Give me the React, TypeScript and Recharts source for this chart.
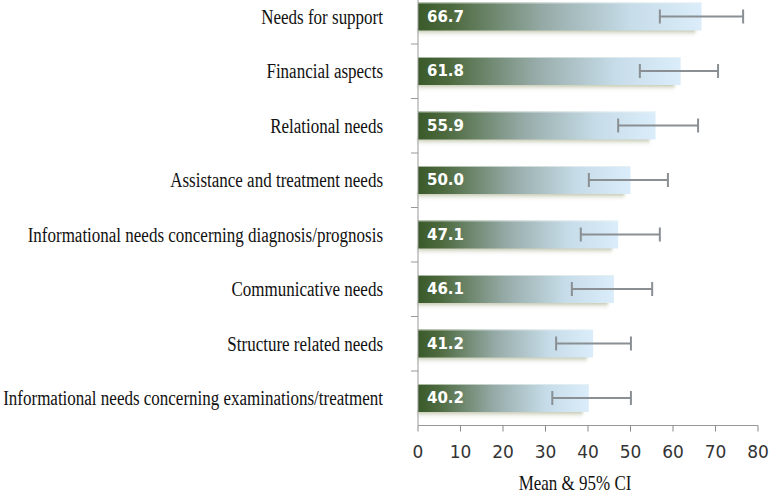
import React from "react";
import { BarChart, Bar, XAxis, YAxis, ErrorBar, LabelList } from "recharts";

const categories = [
  "Needs for support",
  "Financial aspects",
  "Relational needs",
  "Assistance and treatment needs",
  "Informational needs concerning diagnosis/prognosis",
  "Communicative needs",
  "Structure related needs",
  "Informational needs concerning examinations/treatment",
];
const means = [66.7, 61.8, 55.9, 50.0, 47.1, 46.1, 41.2, 40.2];
const ciLow = [56.9, 52.2, 47.1, 40.2, 38.3, 36.2, 32.5, 31.6];
const ciHigh = [76.5, 70.6, 65.9, 58.8, 56.9, 55.1, 50.1, 50.1];
const xTicks = [0, 10, 20, 30, 40, 50, 60, 70, 80];
const xTitle = "Mean & 95% CI";

const CHART_W = 770;
const CHART_H = 514;
const MARGIN = { top: 9.5, right: 12, left: 0, bottom: 8.5 };
const X_AXIS_H = 60;
const Y_AXIS_W = 418;
const PLOT_H = CHART_H - MARGIN.top - MARGIN.bottom - X_AXIS_H;
const HALF_BAND = PLOT_H / categories.length / 2;

const serif = "'Liberation Serif', 'Times New Roman', serif";
const sans = "'DejaVu Sans', Verdana, sans-serif";

const data = categories.map((name, i) => ({
  name,
  mean: means[i],
  err: [means[i] - ciLow[i], ciHigh[i] - means[i]],
}));

const CategoryTick = (props: any) => {
  const { x, y, payload, index } = props;
  return (
    <g>
      <text
        transform={`translate(${x},${y}) scale(1,1.22)`}
        textAnchor="end"
        dy="0.33em"
        fontFamily={serif}
        fontSize={17}
        fill="#111"
      >
        {payload.value}
      </text>
      {index < categories.length - 1 && (
        <line
          x1={Y_AXIS_W - 7}
          x2={Y_AXIS_W}
          y1={y + HALF_BAND}
          y2={y + HALF_BAND}
          stroke="#999"
        />
      )}
    </g>
  );
};

const AxisTitle = (props: any) => {
  const { viewBox } = props;
  const cx = viewBox.x + viewBox.width / 2 - 13;
  const by = viewBox.y + viewBox.height + 4;
  return (
    <text
      transform={`translate(${cx},${by}) scale(1,1.18)`}
      textAnchor="middle"
      fontFamily={serif}
      fontSize={17}
      fill="#111"
    >
      {xTitle}
    </text>
  );
};

const GradientBar = (props: any) => {
  const { x, y, width, height } = props;
  return (
    <g>
      <rect
        x={x}
        y={y + height - 2}
        width={Math.max(width - 6, 0)}
        height={9}
        fill="url(#shadowGrad)"
        filter="url(#shadowBlur)"
      />
      <rect x={x} y={y} width={width} height={height} fill="url(#barGrad)" />
      <line x1={x} x2={x + width} y1={y + 0.5} y2={y + 0.5} stroke="#eef4f0" strokeOpacity={0.6} />
    </g>
  );
};

export default function App() {
  return (
    <div style={{ position: "absolute", left: 0, top: -20 }}>
      <BarChart
        width={CHART_W}
        height={CHART_H}
        data={data}
        layout="vertical"
        margin={MARGIN}
        barSize={28}
      >
        <defs>
          <linearGradient id="barGrad" x1="0" y1="0" x2="1" y2="0">
            <stop offset="0%" stopColor="#3a5a2a" />
            <stop offset="12%" stopColor="#4d6a3f" />
            <stop offset="45%" stopColor="#97aca9" />
            <stop offset="75%" stopColor="#c6dce8" />
            <stop offset="100%" stopColor="#dbedfa" />
          </linearGradient>
          <linearGradient id="shadowGrad" x1="0" y1="0" x2="0" y2="1">
            <stop offset="0%" stopColor="#8e9868" stopOpacity={0.85} />
            <stop offset="100%" stopColor="#ffffff" stopOpacity={0} />
          </linearGradient>
          <filter id="shadowBlur" x="-5%" y="-50%" width="110%" height="200%">
            <feGaussianBlur stdDeviation="1.5" />
          </filter>
        </defs>
        <XAxis
          type="number"
          domain={[0, 80]}
          ticks={xTicks}
          height={X_AXIS_H}
          axisLine={{ stroke: "#999" }}
          tickLine={{ stroke: "#888" }}
          tickSize={6}
          tickMargin={14}
          tick={{ fontFamily: sans, fontSize: 17, fill: "#333" }}
          label={<AxisTitle />}
        />
        <YAxis
          type="category"
          dataKey="name"
          width={Y_AXIS_W}
          interval={0}
          axisLine={{ stroke: "#999" }}
          tickLine={false}
          tickSize={6}
          tickMargin={29}
          tick={<CategoryTick />}
        />
        <Bar dataKey="mean" shape={<GradientBar />} isAnimationActive={false}>
          <LabelList
            dataKey="mean"
            position="insideLeft"
            offset={9}
            formatter={(v: any) => Number(v).toFixed(1)}
            fill="#ffffff"
            fontFamily={sans}
            fontWeight="bold"
            fontSize={15}
          />
          <ErrorBar dataKey="err" direction="x" width={7} stroke="#8a8f94" strokeWidth={2} />
        </Bar>
      </BarChart>
    </div>
  );
}
